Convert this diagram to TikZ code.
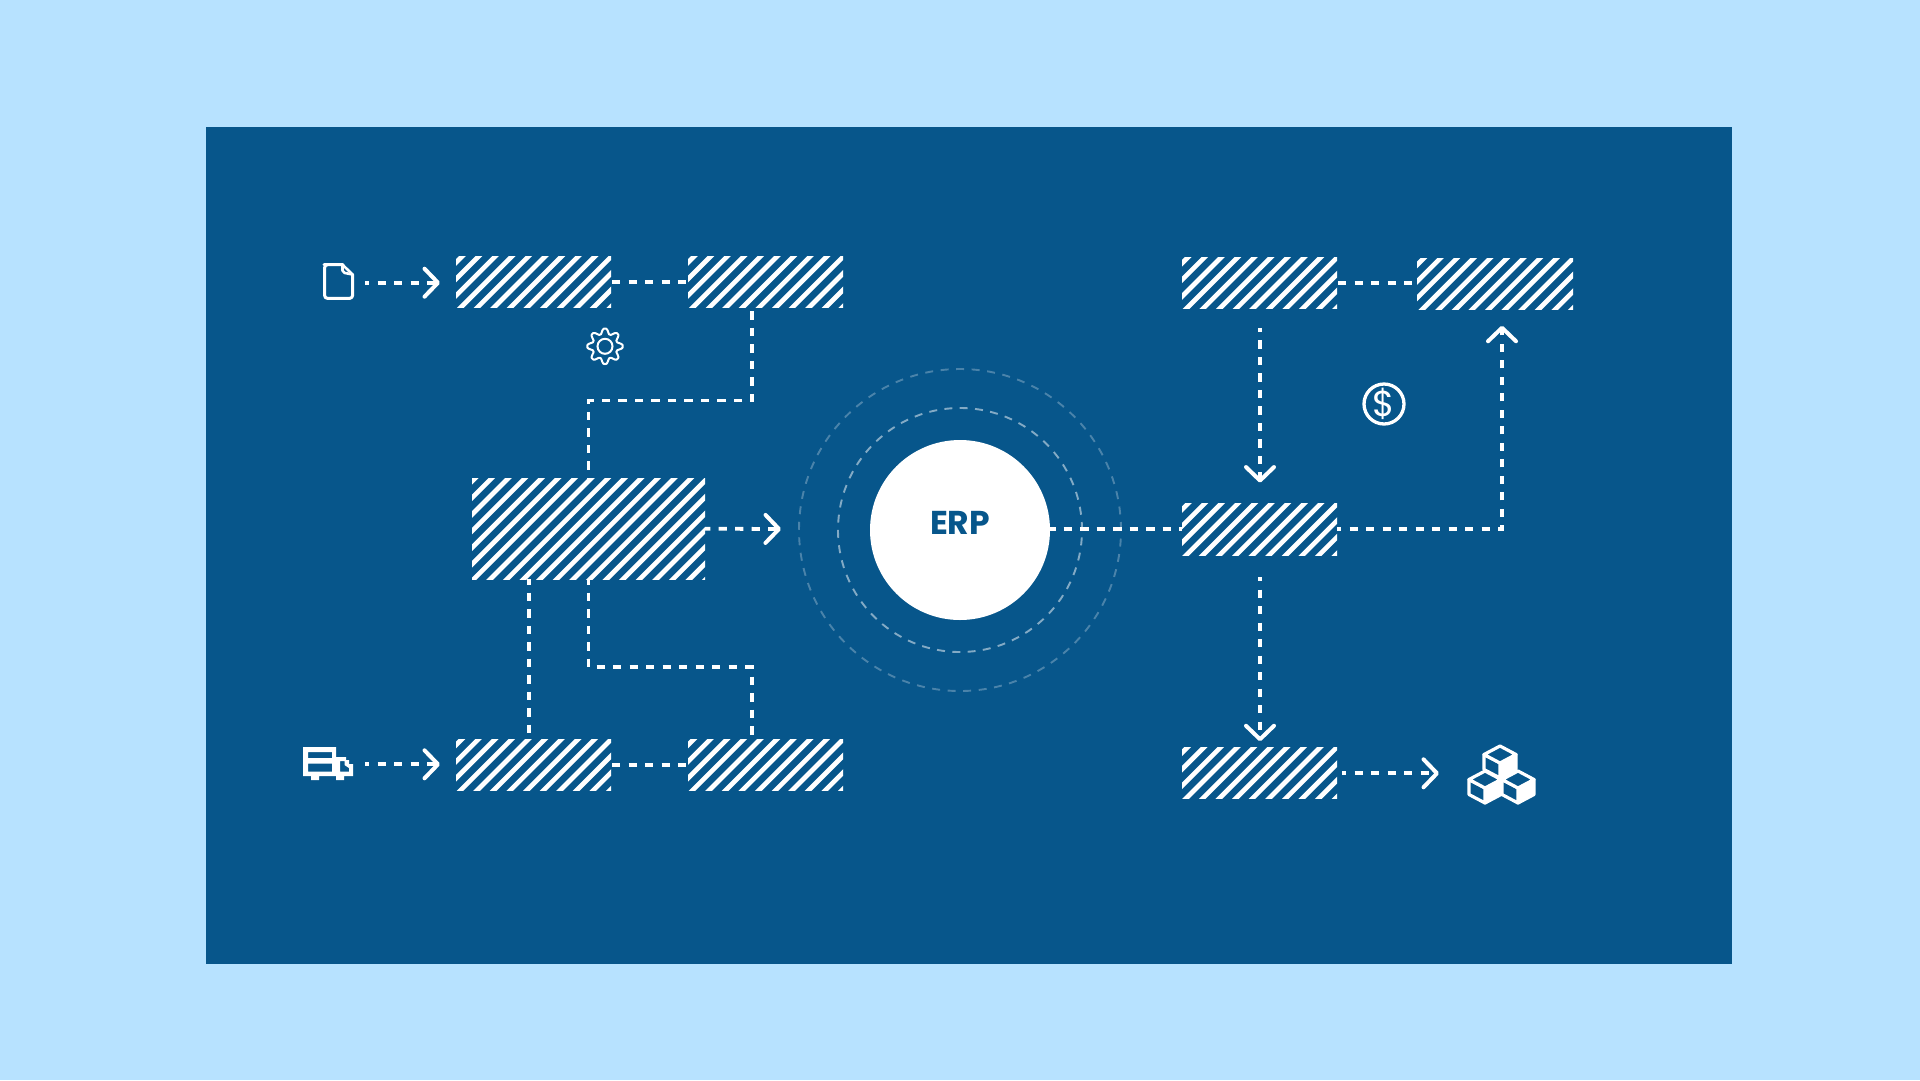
\documentclass[tikz,border=0pt]{standalone}
\usepackage{fontspec}
\usetikzlibrary{arrows.meta}
\newfontfamily\erpfont{Poppins}
\definecolor{skyback}{RGB}{183,226,255}
\definecolor{panelblue}{RGB}{7,86,139}
\tikzset{
  hatch/.style={rectangle,inner sep=0pt,outer sep=0pt,minimum width=155pt,minimum height=51.5pt,
    path picture={
      \foreach \i in {-1,...,21}{
        \draw[white,line width=4.7pt]
          ([shift={(\i*16.6+#1+3,-3)}]path picture bounding box.north west) -- ++(-115,115);
      }
    }},
  flow/.style={white,line width=3.8pt,dash pattern=on 8.3pt off 8.2pt},
  chev/.style={-{Straight Barb[length=13.5pt,width=28pt,line width=4pt,round]}},
  ring/.style={circle,draw,inner sep=0pt,fill=none},
  icon/.style={white,line width=3pt,line join=round,line cap=round},
  cubeface/.style={draw=white,line width=3.2pt,line join=round},
}
\newcommand{\cubeat}[2]{%
  \begin{scope}[shift={(#1,#2)}]
    \filldraw[fill=white,cubeface] (16,-8.5) -- (16,6.5) -- (0,15) -- (0,0) -- cycle;
    \filldraw[fill=panelblue,cubeface] (-16,-8.5) -- (0,0) -- (0,15) -- (-16,6.5) -- cycle;
    \filldraw[fill=panelblue,cubeface] (0,-17) -- (16,-8.5) -- (0,0) -- (-16,-8.5) -- cycle;
  \end{scope}}
\begin{document}
\begin{tikzpicture}[x=1pt,y=-1pt]
\useasboundingbox (0,0) rectangle (1920,1080);
\fill[skyback] (0,0) rectangle (1920,1080);
\fill[panelblue] (205.7,127.3) rectangle (1731.6,963.7);

% rings and hub
\node[ring,draw=white,draw opacity=.5,line width=1.9pt,dash pattern=on 8pt off 7.33pt,minimum size=244pt] (ringa) at (960,530) {};
\node[ring,draw=white,draw opacity=.27,line width=1.9pt,dash pattern=on 8pt off 7.55pt,minimum size=322pt] (ringb) at (960,530) {};
\node[circle,fill=white,inner sep=0pt,minimum size=180pt] (erp) at (960,530) {};
\node[text=panelblue,inner sep=0pt] (erptext) at ([yshift=7.3pt]erp.center) {\erpfont\bfseries\fontsize{33}{33}\selectfont ERP};

% hatched boxes
\node[hatch=6] (A) at (533.5,282.2) {};
\node[hatch=6] (B) at (765.5,282.2) {};
\node[hatch=3.1,minimum width=233pt,minimum height=101pt] (C) at (588.5,528.7) {};
\node[hatch=6] (D) at (533.5,764.8) {};
\node[hatch=6] (E) at (765.5,764.8) {};
\node[hatch=6] (F) at (1259.5,283) {};
\node[hatch=6.7,minimum width=156pt] (G) at (1495,284) {};
\node[hatch=6] (H) at (1259.5,529.3) {};
\node[hatch=5.4] (I) at (1259.5,773) {};

% free ends
\coordinate (docout) at (365,282.7);
\coordinate (doctip) at (440,282.7);
\coordinate (truckout) at (365,764.3);
\coordinate (trucktip) at (440,764.3);
\coordinate (ctip) at (781,529);
\coordinate (cubeout) at (1342,773.3);
\coordinate (cubetip) at (1439,773.3);

% connectors
\draw[flow,chev,dash phase=4pt] (docout) -- (doctip);
\draw[flow,chev,dash phase=4pt] (truckout) -- (trucktip);
\draw[flow,dash phase=-1pt] (A.east) -- (B.west);
\draw[flow,dash phase=-1pt] (D.east) -- (E.west);
\draw[flow,dash phase=-1pt] (F.east) -- (F.east -| G.west);
\draw[flow,dash phase=13pt] ([xshift=-13.5pt]B.south) -- ++(0,92.5) -| (C.north);
\draw[flow,dash phase=3pt] ([xshift=-59.5pt]C.south) -- ([xshift=-4.5pt]D.north);
\draw[flow,dash phase=3pt] (C.south) -- ++(0,88) -| ([xshift=-13.5pt]E.north);
\draw[flow,chev,dash phase=3pt] (C.east) -- (ctip);
\draw[flow,dash phase=3pt] (erp.east |- H.west) -- (H.west);
\draw[flow,chev,dash phase=4pt] (H.east) -| ([xshift=7pt,yshift=-16pt]G.south);
\draw[flow,chev,dash phase=4pt] ([xshift=.5pt,yshift=-19pt]F.south) -- ([xshift=.5pt,yshift=21pt]H.north);
\draw[flow,chev,dash phase=4pt] ([xshift=.5pt,yshift=-22pt]H.south) -- ([xshift=.5pt,yshift=6pt]I.north);
\draw[flow,chev,dash phase=4pt] (cubeout) -- (cubetip);

% document icon
\draw[icon,rounded corners=3pt] (343,264.7) -- (327,264.7) -- (324.6,264.7) -- (324.6,298.4) -- (352.6,298.4) -- (352.6,274.5);
\draw[icon,line width=2.6pt] (342.5,264.7) -- (352.6,274.5);
\draw[icon,line width=2.6pt,rounded corners=2pt] (342.5,264.7) -- (342.5,272.5) -- (352.6,274.5);

% gear icon
\draw[white,line width=2pt,line join=round] plot[smooth cycle,variable=\t,samples=96,domain=0:356.25]
  ({605+(15.2+2.5*max(-1,min(1,1.25*cos(8*\t))))*cos(\t)},{346.3-(15.2+2.5*max(-1,min(1,1.25*cos(8*\t))))*sin(\t)});
\node[circle,draw=white,line width=2pt,inner sep=0pt,minimum size=15pt] (gearhub) at (605,346.3) {};

% dollar icon
\node[circle,draw=white,line width=3.3pt,inner sep=0pt,minimum size=40pt] (dollar) at (1384,404) {};
\node[text=white,inner sep=0pt] (dollartext) at (dollar.center) {\erpfont\fontsize{36}{36}\selectfont\$};

% truck icon
\fill[white,even odd rule]
  (303,747) -- (336,747) -- (336,757) -- (346,757) -- (346,760) -- (349,760) -- (349,764) -- (353,764) -- (353,776)
  -- (344,776) -- (344,780) -- (336,780) -- (336,776) -- (319,776) -- (319,780) -- (311,780) -- (311,776) -- (303,776) -- cycle
  (308,752) rectangle (332,758)
  (308,763.5) rectangle (332,771.7)
  (340,761) -- (344.5,761) -- (344.5,765) -- (349,768) -- (349,771.7) -- (340,771.7) -- cycle;

% cubes icon
\cubeat{1500}{763}
\cubeat{1485}{788}
\cubeat{1518}{788}
\end{tikzpicture}
\end{document}
